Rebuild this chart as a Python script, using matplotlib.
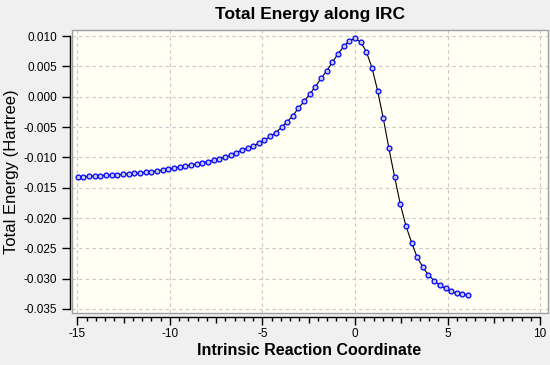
import matplotlib
matplotlib.use("Agg")
import matplotlib.pyplot as plt
from matplotlib.ticker import MultipleLocator, FuncFormatter
from matplotlib.patches import Rectangle

# IRC points
irc_coord = [-14.97, -14.67, -14.36, -14.06, -13.75, -13.44, -13.14, -12.83, -12.53, -12.22,
             -11.92, -11.61, -11.30, -11.00, -10.69, -10.39, -10.08, -9.78, -9.47, -9.17,
             -8.86, -8.55, -8.25, -7.94, -7.64, -7.33, -7.03, -6.72, -6.42, -6.11,
             -5.80, -5.50, -5.19, -4.89, -4.58, -4.28, -3.97, -3.67, -3.36, -3.06,
             -2.75, -2.44, -2.14, -1.83, -1.53, -1.22, -0.92, -0.61, -0.31, 0.00,
             0.31, 0.61, 0.92, 1.22, 1.53, 1.83, 2.14, 2.44, 2.75, 3.06,
             3.36, 3.67, 3.97, 4.28, 4.58, 4.89, 5.19, 5.50, 5.80, 6.11]
energy = [-0.01323, -0.01318, -0.01312, -0.01307, -0.01302, -0.01296, -0.01290, -0.01285, -0.01279, -0.01270,
          -0.01263, -0.01253, -0.01245, -0.01235, -0.01221, -0.01208, -0.01192, -0.01175, -0.01158, -0.01141,
          -0.01125, -0.01108, -0.01090, -0.01069, -0.01044, -0.01020, -0.00996, -0.00964, -0.00926, -0.00880,
          -0.00848, -0.00810, -0.00766, -0.00715, -0.00655, -0.00590, -0.00507, -0.00414, -0.00314, -0.00190,
          -0.00076, 0.00045, 0.00167, 0.00305, 0.00426, 0.00570, 0.00707, 0.00829, 0.00923, 0.00961,
          0.00901, 0.00746, 0.00476, 0.00100, -0.00358, -0.00849, -0.01323, -0.01761, -0.02128, -0.02406,
          -0.02650, -0.02811, -0.02944, -0.03033, -0.03111, -0.03161, -0.03211, -0.03244, -0.03261, -0.03265]

plt.rcParams['font.family'] = ['Liberation Sans', 'DejaVu Sans']
plt.rcParams['axes.unicode_minus'] = False

fig = plt.figure(figsize=(5.5, 3.65), dpi=100, facecolor='#f0f0f0')
ax = fig.add_axes([0.1315, 0.1425, 0.865, 0.775], facecolor='#fffff4')

# plot data -----
ax.plot(irc_coord, energy, color='black', lw=0.8, zorder=3,
        marker='o', markersize=3.5, markeredgewidth=0.9,
        markeredgecolor='#0000ff', markerfacecolor='#c8c8e8')

ax.set_xlim(-15.27, 10.43)
ax.set_ylim(-0.03566, 0.01099)

# axes: gray box plus detached black axis lines
for s in ['top', 'right']:
    ax.spines[s].set_visible(False)
ax.add_patch(Rectangle((0, 0), 1, 1, transform=ax.transAxes, fill=False,
                       edgecolor='#a0a0a0', lw=1.0, clip_on=False, zorder=5))
ax.spines['left'].set_position(('outward', 1.6))
ax.spines['left'].set_bounds(-0.035, 0.010)
ax.spines['bottom'].set_position(('outward', 3.0))
ax.spines['bottom'].set_bounds(-15, 10)
for s in ['left', 'bottom']:
    ax.spines[s].set_linewidth(1.0)

ax.yaxis.set_major_locator(MultipleLocator(0.005))
ax.yaxis.set_major_formatter(FuncFormatter(lambda v, p: '%.3f' % v))
ax.xaxis.set_major_locator(MultipleLocator(2.5))
ax.xaxis.set_minor_locator(MultipleLocator(0.5))
ax.xaxis.set_major_formatter(FuncFormatter(lambda v, p: '%d' % round(v) if abs(v / 5 - round(v / 5)) < 1e-6 else ''))

ax.tick_params(axis='y', direction='out', length=5.8, width=1.0, pad=3.5, labelsize=8.5)
ax.tick_params(axis='x', which='major', direction='out', length=5.5, width=1.0, pad=2.5, labelsize=8.5)
ax.tick_params(axis='x', which='minor', direction='out', length=2.6, width=1.0)

# graph options
ax.grid(True, which='major', color='#c8c8c8', linestyle=(0, (3, 3)), lw=0.8)
ax.set_axisbelow(True)
fig.canvas.draw()
for t in ax.xaxis.get_major_ticks():
    loc = t.get_loc()
    if abs(loc / 5 - round(loc / 5)) > 1e-6:
        t.gridline.set_visible(False)
        t.tick1line.set_markersize(4.0)

ax.set_title('Total Energy along IRC', fontsize=12.5, fontweight='bold', pad=8.0)
ax.set_xlabel('Intrinsic Reaction Coordinate', fontsize=11.5, fontweight='bold')
ax.set_ylabel('Total Energy (Hartree)', fontsize=12)
ax.xaxis.set_label_coords(0.497, -0.105)
ax.yaxis.set_label_coords(-0.113, 0.5)

plt.savefig('out.png', dpi=100, facecolor=fig.get_facecolor())
